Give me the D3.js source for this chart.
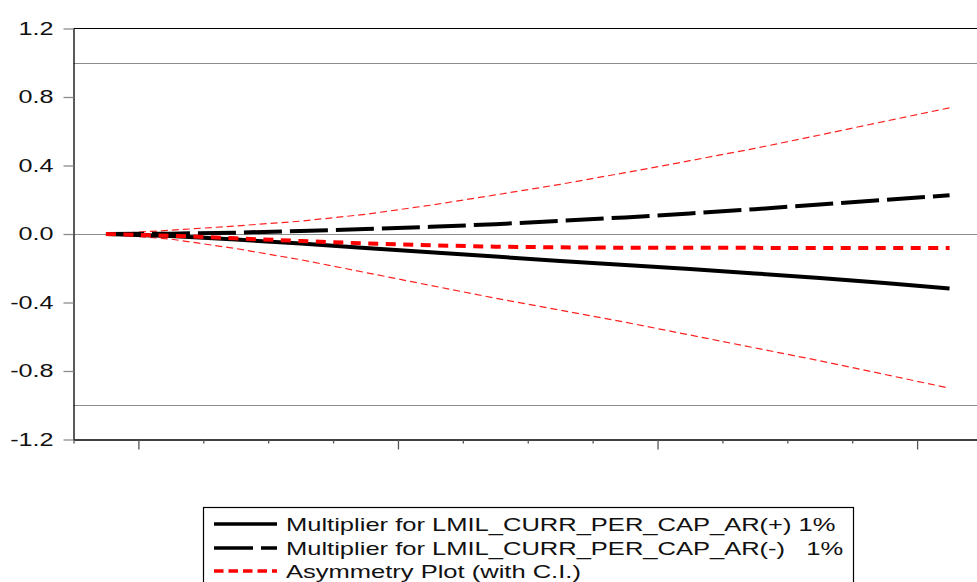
<!DOCTYPE html>
<html>
<head>
<meta charset="utf-8">
<script src="https://cdn.jsdelivr.net/npm/d3@7"></script>
<style>
  body { margin: 0; background: #fff; }
  svg { display: block; font-family: "Liberation Sans", Arial, sans-serif; }
</style>
</head>
<body>
<svg id="chart" width="977" height="582"></svg>
<script>
// periodos (horizonte del multiplicador)
const periods = [0, 1, 2, 3, 4, 5, 6, 7, 8, 9, 10, 11, 12, 13];

// multiplicador choque positivo
const multPos = [0, -0.012, -0.032, -0.056, -0.082, -0.107, -0.132, -0.157, -0.181, -0.205, -0.230, -0.257, -0.286, -0.318];
// multiplicador choque negativo
const multNeg = [0, 0.002, 0.008, 0.018, 0.029, 0.042, 0.057, 0.077, 0.097, 0.120, 0.145, 0.172, 0.199, 0.226];
// asimetria y bandas
const asym = [0, -0.010, -0.025, -0.041, -0.055, -0.066, -0.074, -0.078, -0.080, -0.081, -0.081, -0.082, -0.082, -0.082];
const ciUpper = [0, 0.022, 0.047, 0.075, 0.115, 0.168, 0.228, 0.290, 0.358, 0.428, 0.500, 0.578, 0.658, 0.737];
const ciLower = [0, -0.030, -0.085, -0.150, -0.225, -0.300, -0.375, -0.445, -0.515, -0.590, -0.665, -0.740, -0.820, -0.900];

const yTicks = [-1.2, -0.8, -0.4, 0.0, 0.4, 0.8, 1.2];
const refLines = [1, 0, -1];

const legendLabels = [
    "Multiplier for LMIL_CURR_PER_CAP_AR(+) 1%",
    "Multiplier for LMIL_CURR_PER_CAP_AR(-)   1%",
    "Asymmetry Plot (with C.I.)"
];

const svg = d3.select("#chart");

const plotLeft = 73.5, plotTop = 28.5, plotBottom = 439.5, plotRight = 982;
const stretch = 1.36; // el texto original sale ensanchado

const x = d3.scaleLinear().domain([-0.5, 13.5]).range([plotLeft, plotRight]);
const y = d3.scaleLinear().domain([-1.2, 1.2]).range([plotBottom, plotTop]);

// marco superior
svg.append("line")
    .attr("x1", plotLeft).attr("x2", plotRight)
    .attr("y1", plotTop).attr("y2", plotTop)
    .attr("stroke", "#000").attr("stroke-width", 1);

// lineas de referencia
svg.selectAll(".ref")
    .data(refLines)
    .enter()
    .append("line")
    .attr("class", "ref")
    .attr("x1", plotLeft).attr("x2", plotRight)
    .attr("y1", d => Math.round(y(d)) + 0.5)
    .attr("y2", d => Math.round(y(d)) + 0.5)
    .attr("stroke", "#8c8c8c")
    .attr("stroke-width", 1.2);

// eje Y
const yAxis = svg.append("g")
    .attr("transform", `translate(${plotLeft},0)`)
    .call(d3.axisLeft(y)
        .tickValues(yTicks)
        .tickSize(10)
        .tickSizeOuter(0)
        .tickPadding(9)
        .tickFormat(d => d.toFixed(1)));
yAxis.select(".domain").attr("stroke", "#000").attr("stroke-width", 1.3);
yAxis.selectAll(".tick line").attr("stroke", "#8c8c8c").attr("stroke-width", 1.3);
yAxis.selectAll(".tick text")
    .attr("x", 0)
    .attr("transform", `translate(-20,0) scale(${stretch},1)`)
    .attr("fill", "#111")
    .attr("font-size", "18.5px")
    .attr("font-family", "Liberation Sans, Arial, sans-serif");

// eje X (sin etiquetas)
const xTickVals = d3.range(-0.5, 14, 1);
const xAxis = svg.append("g")
    .attr("transform", `translate(0,${plotBottom})`)
    .call(d3.axisBottom(x)
        .tickValues(xTickVals)
        .tickSize(4)
        .tickSizeOuter(0)
        .tickFormat(""));
xAxis.select(".domain").attr("stroke", "#000").attr("stroke-width", 1.3);
xAxis.selectAll(".tick line")
    .attr("stroke", "#555")
    .attr("stroke-width", 1.3)
    .attr("y2", d => ((d - 0.5) % 4 === 0) ? 10 : 4);

// series
const line = d3.line()
    .x((d, i) => x(periods[i]))
    .y(d => y(d));

const series = [
    { values: ciUpper, color: "#ff2020", width: 1.2, dash: "7,4" },
    { values: ciLower, color: "#ff2020", width: 1.2, dash: "7,4" },
    { values: multNeg, color: "#000", width: 4, dash: "38,8" },
    { values: multPos, color: "#000", width: 4, dash: null },
    { values: asym, color: "#ff0000", width: 4, dash: "10,7.5" }
];

svg.selectAll(".series")
    .data(series)
    .enter()
    .append("path")
    .attr("class", "series")
    .attr("d", d => line(d.values))
    .attr("fill", "none")
    .attr("stroke", d => d.color)
    .attr("stroke-width", d => d.width)
    .attr("stroke-dasharray", d => d.dash);

// leyenda
const legend = svg.append("g");
legend.append("rect")
    .attr("x", 203.5).attr("y", 507.5)
    .attr("width", 650).attr("height", 90)
    .attr("fill", "#fff")
    .attr("stroke", "#000")
    .attr("stroke-width", 1.2);

const legendStyles = [
    { color: "#000", dash: null },
    { color: "#000", dash: "39,8" },
    { color: "#ff0000", dash: "9.5,5" }
];
const legendY = [524, 548, 571];

legendLabels.forEach((label, i) => {
    legend.append("line")
        .attr("x1", 214).attr("x2", 277)
        .attr("y1", legendY[i]).attr("y2", legendY[i])
        .attr("stroke", legendStyles[i].color)
        .attr("stroke-width", 3.5)
        .attr("stroke-dasharray", legendStyles[i].dash);
    legend.append("text")
        .attr("transform", `translate(286,${legendY[i] + 6.5}) scale(1.38,1)`)
        .attr("font-size", "18.5px")
        .attr("fill", "#111")
        .style("white-space", "pre")
        .text(label);
});
</script>
</body>
</html>
